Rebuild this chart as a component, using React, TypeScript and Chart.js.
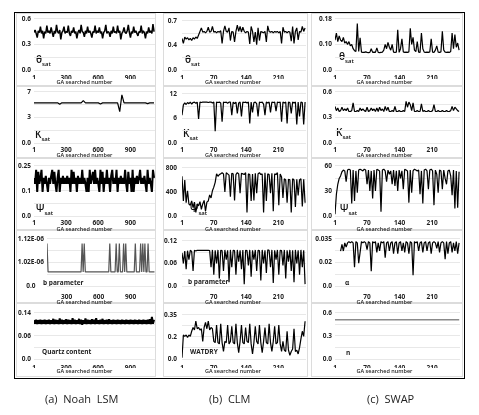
import React, { useEffect, useRef } from "react";
import { Chart, registerables } from "chart.js";
Chart.register(...registerables);

const FONT = "'Open Sans', 'DejaVu Sans', sans-serif";

// ---------------- DATA ----------------
// x tick labels
const noahXTicks = [1, 300, 600, 900];
const noahXTicksNoOne = [300, 600, 900];
const clmXTicks = [1, 70, 140, 210];
const clmXTicksNoOne = [70, 140, 210];

// Noah LSM (GA searched number 1..1121, every 10th)
const noahTheta = [
  0.44,0.47,0.43,0.38,0.46,0.44,0.51,0.43,0.46,0.37,
  0.45,0.43,0.52,0.44,0.46,0.43,0.50,0.44,0.39,0.46,
  0.43,0.53,0.45,0.43,0.47,0.36,0.44,0.46,0.51,0.43,
  0.45,0.44,0.52,0.43,0.40,0.46,0.44,0.50,0.43,0.45,
  0.37,0.44,0.47,0.43,0.53,0.45,0.44,0.39,0.46,0.43,
  0.51,0.44,0.46,0.43,0.38,0.45,0.44,0.52,0.43,0.46,
  0.44,0.50,0.43,0.45,0.37,0.44,0.46,0.53,0.43,0.45,
  0.44,0.39,0.46,0.43,0.51,0.44,0.45,0.43,0.52,0.44,
  0.46,0.36,0.43,0.45,0.50,0.44,0.43,0.46,0.53,0.44,
  0.38,0.45,0.43,0.51,0.44,0.46,0.43,0.40,0.45,0.44,
  0.52,0.43,0.46,0.44,0.37,0.45,0.43,0.50,0.44,0.46,
  0.43,0.54,0.45,
];
// every 20th
const noahKsat = [
  5.5,5.5,5.5,5.5,5.5,5.5,5.5,5.5,5.5,5.5,
  5.5,5.5,5.3,5.5,5.5,5.5,5.5,5.5,5.5,5.5,
  5.5,5.5,5.5,5.8,5.5,5.5,5.5,5.5,5.5,5.5,
  5.5,5.35,5.5,5.5,5.5,5.5,5.5,5.5,5.5,5.5,
  4.3,6.6,5.5,5.5,5.5,5.5,5.5,5.5,5.5,5.5,
  5.5,5.5,5.5,5.4,5.5,5.5,5.5,
];
const noahPsi = [
  0.19,0.16,0.23,0.12,0.22,0.16,0.19,0.23,0.12,0.19,
  0.16,0.20,0.16,0.12,0.19,0.16,0.20,0.23,0.16,0.22,
  0.16,0.12,0.19,0.23,0.12,0.19,0.16,0.20,0.16,0.19,
  0.16,0.20,0.16,0.19,0.12,0.23,0.16,0.22,0.16,0.19,
  0.12,0.20,0.16,0.19,0.16,0.23,0.16,0.19,0.16,0.12,
  0.19,0.12,0.23,0.16,0.19,0.22,0.16,0.23,0.16,0.19,
  0.16,0.12,0.23,0.16,0.22,0.12,0.19,0.16,0.23,0.16,
  0.19,0.12,0.20,0.23,0.16,0.19,0.16,0.23,0.12,0.19,
  0.16,0.20,0.16,0.19,0.16,0.23,0.16,0.12,0.22,0.16,
  0.19,0.12,0.23,0.12,0.19,0.16,0.20,0.16,0.19,0.23,
  0.16,0.19,0.16,0.20,0.16,0.12,0.23,0.16,0.19,0.16,
  0.12,0.23,0.19,
];
// b parameter (x 10^-6), GA 115..1125 every 10th
const noahB = [
  1.10,0.98,0.98,0.98,0.98,0.98,0.98,0.98,0.98,0.98,
  0.98,0.98,0.98,0.98,0.98,0.98,0.98,0.98,0.98,0.98,
  0.98,0.98,0.98,0.98,0.98,0.98,0.98,0.98,0.98,0.98,
  0.98,0.98,0.98,1.10,0.98,1.10,0.98,0.98,0.98,0.98,
  0.98,0.98,0.98,0.98,0.98,0.98,0.98,0.98,0.98,0.98,
  0.98,0.98,0.98,0.98,0.98,0.98,0.98,0.98,0.98,1.10,
  0.98,0.98,0.98,0.98,0.98,1.10,0.98,0.98,1.10,0.98,
  0.98,0.98,1.10,0.98,1.10,0.98,0.98,0.98,0.98,0.98,
  0.98,0.98,0.98,1.10,0.98,0.98,0.98,0.98,1.10,0.98,
  1.10,0.98,1.10,0.98,0.98,1.10,0.98,0.98,0.98,0.98,
  0.98,0.98,
];
const noahQuartz = [
  0.118,0.107,0.119,0.106,0.118,0.107,0.119,0.106,0.118,0.107,
  0.119,0.106,0.118,0.107,0.119,0.106,0.118,0.107,0.122,0.106,
  0.119,0.107,0.118,0.106,0.123,0.107,0.119,0.106,0.118,0.107,
  0.121,0.106,0.119,0.107,0.118,0.106,0.124,0.107,0.119,0.106,
  0.118,0.107,0.122,0.106,0.119,0.104,0.118,0.107,0.123,0.106,
  0.119,0.107,0.118,0.106,0.121,0.107,0.119,0.106,0.124,0.107,
  0.118,0.106,0.119,0.107,0.122,0.106,0.118,0.107,0.119,0.106,
  0.121,0.107,0.118,0.106,0.119,0.107,0.118,0.106,0.119,0.107,
  0.118,0.106,0.119,0.107,0.118,0.106,0.119,0.107,0.118,0.106,
  0.119,0.107,0.118,0.106,0.119,0.107,0.118,0.106,0.119,0.107,
  0.118,0.106,0.119,0.107,0.118,0.106,0.119,0.107,0.121,0.106,
  0.128,0.107,0.119,
];

// CLM (GA 1..268, every 3rd)
const clmTheta = [
  0.45,0.38,0.47,0.44,0.46,0.43,0.45,0.42,0.46,0.44,
  0.47,0.45,0.50,0.55,0.60,0.54,0.55,0.53,0.55,0.61,
  0.54,0.55,0.62,0.54,0.55,0.53,0.55,0.54,0.56,0.38,
  0.55,0.63,0.55,0.54,0.60,0.42,0.55,0.54,0.40,0.55,
  0.64,0.55,0.62,0.54,0.61,0.55,0.53,0.55,0.54,0.37,
  0.62,0.55,0.40,0.54,0.36,0.60,0.42,0.55,0.54,0.53,
  0.55,0.40,0.63,0.55,0.54,0.55,0.53,0.55,0.54,0.55,
  0.53,0.55,0.38,0.61,0.54,0.55,0.53,0.55,0.54,0.41,
  0.62,0.38,0.55,0.60,0.43,0.55,0.54,0.62,0.55,0.60,
];
const clmKsat = [
  6.8,9.3,9.8,9.4,9.9,9.6,10.0,9.5,9.9,10.0,
  9.7,10.0,5.9,10.0,9.9,10.0,10.0,10.0,10.0,9.9,
  10.0,10.0,9.8,10.0,2.9,10.0,9.9,10.0,9.8,5.2,
  10.0,9.9,10.0,9.7,10.0,10.0,6.8,10.0,9.6,10.0,
  7.2,9.8,10.0,6.5,10.0,9.9,10.0,9.8,10.0,4.8,
  10.0,7.5,9.9,10.0,9.6,6.5,10.0,9.9,10.0,9.5,
  6.8,10.0,9.8,10.0,7.5,10.0,9.9,10.0,7.8,10.0,
  9.9,10.0,5.2,10.0,9.8,10.0,4.8,10.0,9.9,7.2,
  10.0,9.8,10.0,4.5,10.0,6.5,10.0,9.9,4.5,10.0,
];
const clmPsi = [
  660,250,600,220,420,200,180,250,140,230,
  60,200,170,240,110,200,260,80,230,250,
  350,300,420,480,560,700,660,690,700,720,
  700,400,720,700,680,320,710,700,260,690,
  720,700,380,710,700,690,720,60,700,690,
  250,700,260,710,380,700,720,690,700,60,
  720,250,700,690,380,710,80,700,690,720,
  180,700,650,300,620,600,220,610,600,60,
  620,600,150,610,340,600,620,160,610,220,
];
const clmB = [
  0.088,0.060,0.093,0.045,0.094,0.070,0.095,0.092,0.040,0.095,
  0.093,0.095,0.095,0.095,0.095,0.095,0.095,0.095,0.095,0.095,
  0.094,0.050,0.096,0.030,0.095,0.060,0.096,0.020,0.095,0.094,
  0.040,0.096,0.070,0.095,0.010,0.096,0.050,0.095,0.094,0.030,
  0.096,0.065,0.095,0.045,0.096,0.005,0.095,0.094,0.055,0.096,
  0.025,0.095,0.070,0.096,0.040,0.095,0.094,0.015,0.096,0.060,
  0.095,0.035,0.096,0.095,0.050,0.096,0.008,0.095,0.070,0.096,
  0.030,0.095,0.094,0.055,0.096,0.020,0.095,0.065,0.096,0.040,
  0.095,0.010,0.096,0.060,0.095,0.030,0.096,0.050,0.095,0.005,
];
const clmWatdry = [
  0.01,0.19,0.18,0.19,0.17,0.19,0.18,0.22,0.25,0.23,
  0.30,0.24,0.25,0.23,0.24,0.14,0.25,0.29,0.24,0.30,
  0.23,0.25,0.24,0.14,0.13,0.27,0.13,0.12,0.28,0.13,
  0.06,0.14,0.13,0.27,0.12,0.14,0.26,0.13,0.12,0.28,
  0.13,0.05,0.14,0.27,0.13,0.12,0.25,0.14,0.13,0.28,
  0.12,0.04,0.13,0.26,0.14,0.12,0.27,0.13,0.05,0.14,
  0.25,0.13,0.12,0.28,0.13,0.06,0.14,0.26,0.12,0.13,
  0.27,0.12,0.06,0.14,0.07,0.06,0.22,0.07,0.03,0.06,
  0.08,0.24,0.06,0.07,0.04,0.09,0.16,0.22,0.18,0.30,
];

// SWAP (GA 1..268, every 3rd)
const swapTheta = [
  0.105,0.13,0.10,0.12,0.105,0.10,0.115,0.095,0.10,0.09,
  0.10,0.085,0.09,0.075,0.068,0.065,0.164,0.065,0.113,0.063,
  0.062,0.062,0.064,0.062,0.061,0.062,0.075,0.062,0.063,0.062,
  0.078,0.062,0.061,0.062,0.063,0.070,0.090,0.075,0.097,0.080,
  0.070,0.090,0.063,0.062,0.063,0.142,0.062,0.075,0.110,0.064,
  0.062,0.063,0.062,0.064,0.147,0.090,0.115,0.070,0.065,0.100,
  0.063,0.062,0.130,0.075,0.063,0.062,0.063,0.062,0.064,0.110,
  0.063,0.062,0.070,0.085,0.063,0.062,0.064,0.136,0.070,0.063,
  0.062,0.063,0.062,0.065,0.130,0.075,0.125,0.080,0.095,0.070,
];
const swapKsat = [
  0.43,0.38,0.41,0.37,0.38,0.42,0.38,0.40,0.38,0.41,
  0.37,0.37,0.38,0.47,0.37,0.37,0.38,0.37,0.41,0.38,
  0.40,0.38,0.37,0.42,0.37,0.38,0.41,0.38,0.40,0.37,
  0.41,0.37,0.42,0.38,0.40,0.37,0.43,0.38,0.42,0.37,
  0.37,0.38,0.37,0.43,0.37,0.37,0.38,0.37,0.37,0.38,
  0.37,0.49,0.42,0.48,0.45,0.38,0.47,0.37,0.37,0.38,
  0.37,0.37,0.46,0.37,0.38,0.37,0.37,0.38,0.37,0.37,
  0.38,0.45,0.37,0.37,0.38,0.37,0.37,0.38,0.37,0.37,
  0.38,0.37,0.37,0.38,0.43,0.38,0.42,0.40,0.38,0.37,
];
const swapPsi = [
  2,26,38,45,48,53,55,54,41,55,
  56,55,15,55,18,54,28,55,56,55,
  54,56,55,38,55,30,54,21,55,30,
  56,55,54,5,55,56,54,41,55,50,
  54,38,55,36,54,30,55,45,54,32,
  56,55,54,16,55,28,54,56,55,54,
  55,26,54,15,55,56,54,32,55,56,
  54,13,55,50,28,55,54,32,55,45,
  38,54,55,48,25,55,9,54,10,53,
];
const swapAlpha = [
  null,null,null,null,0.026,0.031,0.026,0.032,0.029,0.032,
  0.033,0.032,0.033,0.032,0.014,0.033,0.032,0.017,0.025,0.033,
  0.032,0.033,0.032,0.027,0.033,0.032,0.011,0.033,0.032,0.033,
  0.025,0.032,0.026,0.033,0.032,0.033,0.021,0.032,0.033,0.026,
  0.032,0.033,0.024,0.032,0.033,0.024,0.032,0.033,0.026,0.032,
  0.025,0.033,0.032,0.024,0.033,0.032,0.008,0.033,0.032,0.033,
  0.026,0.032,0.033,0.025,0.032,0.033,0.026,0.032,0.033,0.024,
  0.032,0.033,0.032,0.028,0.033,0.025,0.032,0.033,0.032,0.020,
  0.033,0.024,0.032,0.033,0.025,0.032,0.026,0.033,0.024,0.032,
];
const swapN = [0.51,0.51,0.51,0.51,0.51,0.51,0.51,0.51,0.51,0.51];

// y tick labels (bottom, middle, top)
const yLab = {
  noahTheta: ["0.0", "0.3", "0.6"],
  noahKsat: ["0.0", "3", "7"],
  noahPsi: ["0.0", "0.1", "0.25"],
  noahB: ["0.0", "1.02E-06", "1.12E-06"],
  noahQuartz: ["0.0", "0.06", "0.14"],
  clmTheta: ["0.0", "0.4", "0.7"],
  clmKsat: ["0.0", "6", "12"],
  clmPsi: ["0.0", "400", "800"],
  clmB: ["0.0", "0.06", "0.12"],
  clmWatdry: ["0.0", "0.2", "0.35"],
  swapTheta: ["0.0", "0.10", "0.18"],
  swapKsat: ["0.0", "0.3", "0.6"],
  swapPsi: ["0.0", "30", "60"],
  swapAlpha: ["0.0", "0.02", "0.035"],
  swapN: ["0.0", "0.3", "0.6"],
};

// ---------------- LAYOUT ----------------
const COLS = [
  { canvasLeft: 14, canvasRight: 162, plotLeft: 34, plotRight: 155, yPad: 3 },
  { canvasLeft: 160, canvasRight: 313, plotLeft: 182, plotRight: 306, yPad: 5 },
  { canvasLeft: 309, canvasRight: 473, plotLeft: 335, plotRight: 460, yPad: 3 },
];
const ROWS = [
  { plotTop: 17, plotBottom: 70, xPad: 4.4, xH: 9 },
  { plotTop: 90, plotBottom: 143, xPad: 3.4, xH: 9 },
  { plotTop: 164, plotBottom: 216, xPad: 3.4, xH: 10 },
  { plotTop: 237, plotBottom: 286, xPad: 7.4, xH: 13 },
  { plotTop: 311, plotBottom: 359, xPad: 5.4, xH: 9 },
];
const PAD_TOP = 5;
const TITLE_H = 7;
const PANEL_X = [[16, 156], [163, 308], [311, 463]];
const PANEL_Y = [[13, 86], [86, 158], [158, 230], [230, 303], [303, 377]];

type Spec = {
  values: (number | null)[];
  start: number;
  step: number;
  col: number;
  row: number;
  xMin: number;
  xMax: number;
  xTicks: number[];
  yMin: number;
  yMax: number;
  yLabels: string[];
  color?: string;
  width?: number;
  plotLeft?: number;
  yAlign?: "near" | "center" | "far";
};

const SPECS: Spec[] = [
  { values: noahTheta, start: 1, step: 10, col: 0, row: 0, xMin: 1, xMax: 1130, xTicks: noahXTicks, yMin: 0, yMax: 0.6, yLabels: yLab.noahTheta, width: 1.5 },
  { values: noahKsat, start: 1, step: 20, col: 0, row: 1, xMin: 1, xMax: 1130, xTicks: noahXTicks, yMin: 0, yMax: 7, yLabels: yLab.noahKsat },
  { values: noahPsi, start: 1, step: 10, col: 0, row: 2, xMin: 1, xMax: 1130, xTicks: noahXTicks, yMin: 0, yMax: 0.25, yLabels: yLab.noahPsi, width: 2 },
  { values: noahB, start: 115, step: 10, col: 0, row: 3, xMin: 115, xMax: 1130, xTicks: noahXTicksNoOne, yMin: 0.92, yMax: 1.12, yLabels: yLab.noahB, color: "#555", plotLeft: 47, yAlign: "center" },
  { values: noahQuartz, start: 1, step: 10, col: 0, row: 4, xMin: 1, xMax: 1130, xTicks: noahXTicks, yMin: 0, yMax: 0.14, yLabels: yLab.noahQuartz, width: 2 },
  { values: clmTheta, start: 1, step: 3, col: 1, row: 0, xMin: 1, xMax: 270, xTicks: clmXTicks, yMin: 0, yMax: 0.7, yLabels: yLab.clmTheta },
  { values: clmKsat, start: 1, step: 3, col: 1, row: 1, xMin: 1, xMax: 270, xTicks: clmXTicks, yMin: 0, yMax: 12, yLabels: yLab.clmKsat },
  { values: clmPsi, start: 1, step: 3, col: 1, row: 2, xMin: 1, xMax: 270, xTicks: clmXTicks, yMin: 0, yMax: 800, yLabels: yLab.clmPsi },
  { values: clmB, start: 1, step: 3, col: 1, row: 3, xMin: 1, xMax: 270, xTicks: clmXTicksNoOne, yMin: 0, yMax: 0.12, yLabels: yLab.clmB },
  { values: clmWatdry, start: 1, step: 3, col: 1, row: 4, xMin: 1, xMax: 270, xTicks: clmXTicks, yMin: 0, yMax: 0.35, yLabels: yLab.clmWatdry },
  { values: swapTheta, start: 1, step: 3, col: 2, row: 0, xMin: 1, xMax: 270, xTicks: clmXTicks, yMin: 0, yMax: 0.18, yLabels: yLab.swapTheta },
  { values: swapKsat, start: 1, step: 3, col: 2, row: 1, xMin: 1, xMax: 270, xTicks: clmXTicks, yMin: 0, yMax: 0.6, yLabels: yLab.swapKsat },
  { values: swapPsi, start: 1, step: 3, col: 2, row: 2, xMin: 1, xMax: 270, xTicks: clmXTicks, yMin: 0, yMax: 60, yLabels: yLab.swapPsi },
  { values: swapAlpha, start: 1, step: 3, col: 2, row: 3, xMin: 1, xMax: 270, xTicks: clmXTicksNoOne, yMin: 0, yMax: 0.035, yLabels: yLab.swapAlpha },
  { values: swapN, start: 1, step: 29.7, col: 2, row: 4, xMin: 1, xMax: 270, xTicks: clmXTicks, yMin: 0, yMax: 0.6, yLabels: yLab.swapN, color: "#8a8a8a", width: 1.5 },
];

const VAR_LABELS = [
  { x: 36, y: 60, main: "θ", sub: "sat" },
  { x: 185, y: 60, main: "θ", sub: "sat" },
  { x: 339, y: 57, main: "θ", sub: "sat" },
  { x: 35, y: 135, main: "K", sub: "sat" },
  { x: 183, y: 134, main: "K", sub: "sat" },
  { x: 336, y: 133, main: "K", sub: "sat" },
  { x: 36, y: 209, main: "Ψ", sub: "sat" },
  { x: 190, y: 209, main: "Ψ", sub: "sat" },
  { x: 340, y: 209, main: "Ψ", sub: "sat" },
];
const SMALL_LABELS = [
  { x: 43, y: 283, text: "b parameter" },
  { x: 188, y: 282, text: "b parameter" },
  { x: 345, y: 283, text: "α" },
  { x: 42, y: 352, text: "Quartz content" },
  { x: 190, y: 352, text: "WATDRY" },
  { x: 346, y: 353, text: "n" },
];
const CAPTIONS = [
  { x: 45, text: "(a)  Noah  LSM" },
  { x: 209, text: "(b)  CLM" },
  { x: 367, text: "(c)  SWAP" },
];

function Panel({ spec }: { spec: Spec }) {
  const ref = useRef<HTMLCanvasElement>(null);
  const col = COLS[spec.col];
  const row = ROWS[spec.row];
  const plotLeft = spec.plotLeft ?? col.plotLeft;
  const left = col.canvasLeft;
  const width = col.canvasRight - col.canvasLeft;
  const top = row.plotTop - PAD_TOP;
  const height = row.plotBottom - row.plotTop + PAD_TOP + row.xH + TITLE_H;

  useEffect(() => {
    const canvas = ref.current;
    if (!canvas) return;
    const pts = spec.values.map((v, i) => ({ x: spec.start + i * spec.step, y: v }));
    const tickFont = { family: FONT, size: 6.5, weight: "bold" as const };
    const chart = new Chart(canvas, {
      type: "line",
      data: {
        datasets: [
          {
            data: pts as any,
            borderColor: spec.color ?? "#000",
            borderWidth: spec.width ?? 1.2,
            pointRadius: 0,
            tension: 0,
            spanGaps: false,
            fill: false,
            borderJoinStyle: "bevel",
          },
        ],
      },
      options: {
        animation: false,
        responsive: false,
        events: [],
        layout: { padding: { top: PAD_TOP, right: col.canvasRight - col.plotRight, bottom: 0, left: 0 } },
        plugins: {
          legend: { display: false },
          tooltip: { enabled: false },
          title: {
            display: true,
            position: "bottom",
            text: "GA searched number",
            color: "#222",
            font: { family: FONT, size: 5.5, weight: "600", lineHeight: 1.2 },
            padding: { top: 0, bottom: TITLE_H - 6.6 },
          },
        },
        scales: {
          x: {
            type: "linear",
            min: spec.xMin,
            max: spec.xMax,
            grid: { display: false, drawTicks: false },
            border: { display: false },
            afterBuildTicks: (s: any) => {
              s.ticks = spec.xTicks.filter((v) => v >= spec.xMin && v <= spec.xMax).map((v) => ({ value: v }));
            },
            afterFit: (s: any) => {
              s.height = row.xH;
            },
            ticks: {
              autoSkip: false,
              maxRotation: 0,
              minRotation: 0,
              padding: row.xPad,
              color: "#222",
              font: tickFont,
              callback: (v: any) => String(v),
            },
          },
          y: {
            type: "linear",
            min: spec.yMin,
            max: spec.yMax,
            grid: { color: "#e8e8e8", lineWidth: 1, drawTicks: false },
            border: { display: false },
            afterBuildTicks: (s: any) => {
              const out = [];
              for (let k = 0; k <= 4; k++) out.push({ value: spec.yMin + (k * (spec.yMax - spec.yMin)) / 4 });
              s.ticks = out;
            },
            afterFit: (s: any) => {
              s.width = plotLeft - left;
            },
            ticks: {
              autoSkip: false,
              padding: col.yPad,
              crossAlign: spec.yAlign ?? "near",
              color: "#222",
              font: tickFont,
              callback: (_v: any, i: number) => (i % 2 === 0 ? spec.yLabels[i / 2] : ""),
            },
          },
        },
      },
    });
    return () => chart.destroy();
  }, []);

  return (
    <canvas
      ref={ref}
      width={width}
      height={height}
      style={{ position: "absolute", left, top, width, height, zIndex: 2 }}
    />
  );
}

export default function App() {
  return (
    <div style={{ position: "absolute", left: 0, top: 0, width: 479, height: 415, background: "#fff", fontFamily: FONT, overflow: "hidden" }}>
      <div style={{ position: "absolute", left: 14, top: 12, width: 451, height: 367, border: "1px solid #000", boxSizing: "border-box" }} />
      {PANEL_X.map(([x0, x1], ci) =>
        PANEL_Y.map(([y0, y1], ri) => (
          <div
            key={`p${ci}${ri}`}
            style={{ position: "absolute", left: x0, top: y0, width: x1 - x0, height: y1 - y0, border: "1px solid #dcdcdc", boxSizing: "border-box" }}
          />
        ))
      )}
      {VAR_LABELS.map((l, i) => (
        <div key={`v${i}`} style={{ position: "absolute", left: l.x, top: l.y - 7, fontSize: 10, lineHeight: "12px", fontWeight: 600, color: "#111", whiteSpace: "nowrap", zIndex: 1, willChange: "transform" }}>
          {l.main}
          <span style={{ fontSize: 6, position: "relative", top: 3 }}>{l.sub}</span>
        </div>
      ))}
      {SMALL_LABELS.map((l, i) => (
        <div key={`s${i}`} style={{ position: "absolute", left: l.x, top: l.y - 4, fontSize: 6.5, lineHeight: "8px", fontWeight: 700, color: "#222", whiteSpace: "nowrap", zIndex: 1, willChange: "transform" }}>
          {l.text}
        </div>
      ))}
      {SPECS.map((s, i) => (
        <Panel key={i} spec={s} />
      ))}
      {CAPTIONS.map((c, i) => (
        <div key={`c${i}`} style={{ position: "absolute", left: c.x, top: 392, fontSize: 11, lineHeight: "14px", color: "#222", whiteSpace: "pre", willChange: "transform" }}>
          {c.text}
        </div>
      ))}
    </div>
  );
}
